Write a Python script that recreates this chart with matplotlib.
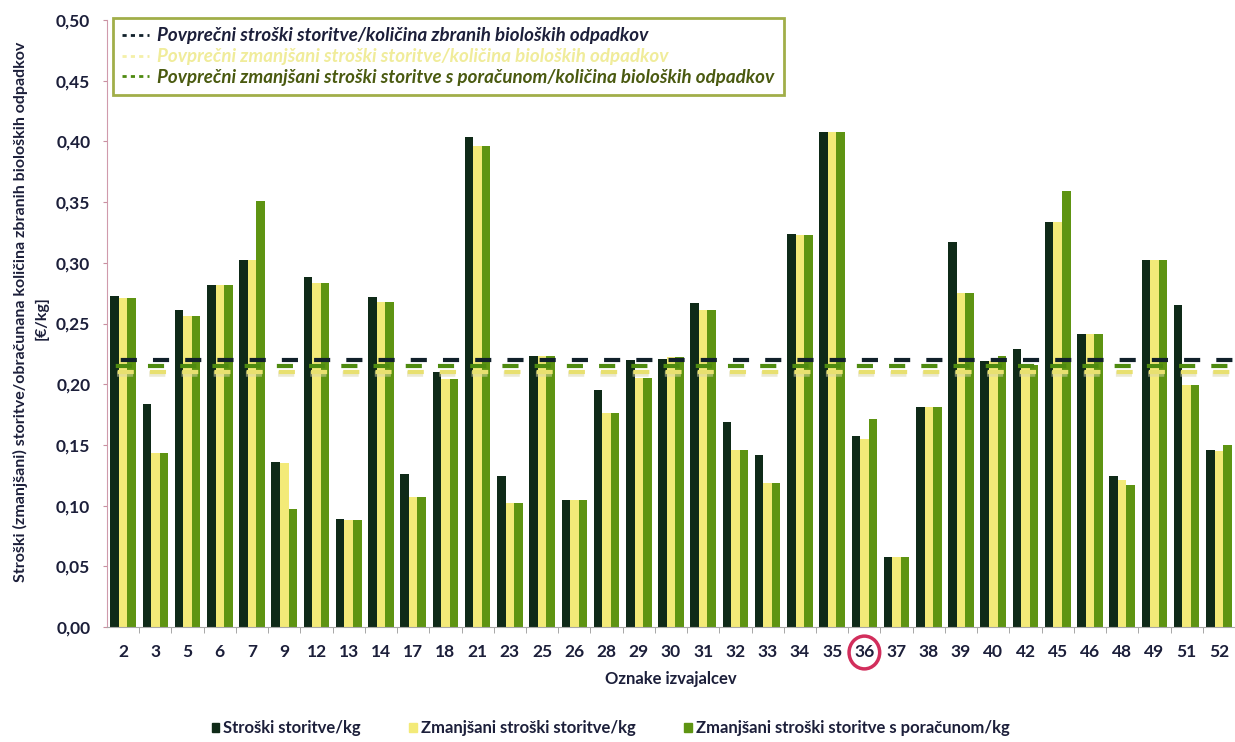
import numpy as np
import matplotlib
matplotlib.use("Agg")
import matplotlib.pyplot as plt
from matplotlib.lines import Line2D
from matplotlib.patches import Patch, Ellipse

plt.rcParams['font.family'] = ['Lato', 'DejaVu Sans']
plt.rcParams['lines.scale_dashes'] = False

# oznake izvajalcev
izvajalci = ['2', '3', '5', '6', '7', '9', '12', '13', '14', '17', '18', '21', '23', '25', '26',
             '28', '29', '30', '31', '32', '33', '34', '35', '36', '37', '38', '39', '40', '42',
             '45', '46', '48', '49', '51', '52']

# stroski storitve / kg
stroski = [0.273, 0.184, 0.261, 0.282, 0.302, 0.136, 0.288, 0.089, 0.272, 0.126, 0.210, 0.404,
           0.124, 0.223, 0.105, 0.195, 0.220, 0.221, 0.267, 0.169, 0.142, 0.324, 0.408, 0.157,
           0.058, 0.181, 0.317, 0.219, 0.229, 0.334, 0.241, 0.124, 0.302, 0.265, 0.146]

# zmanjsani stroski storitve / kg
zmanjsani = [0.271, 0.143, 0.256, 0.282, 0.302, 0.135, 0.283, 0.088, 0.268, 0.107, 0.204, 0.396,
             0.102, 0.223, 0.105, 0.176, 0.205, 0.222, 0.261, 0.146, 0.119, 0.323, 0.408, 0.155,
             0.058, 0.181, 0.275, 0.219, 0.216, 0.334, 0.241, 0.121, 0.302, 0.199, 0.145]

# zmanjsani stroski storitve s poracunom / kg
poracun = [0.271, 0.143, 0.256, 0.282, 0.351, 0.097, 0.283, 0.088, 0.268, 0.107, 0.204, 0.396,
           0.102, 0.223, 0.105, 0.176, 0.205, 0.222, 0.261, 0.146, 0.119, 0.323, 0.408, 0.171,
           0.058, 0.181, 0.275, 0.223, 0.216, 0.359, 0.241, 0.117, 0.302, 0.199, 0.150]

# povprecja
povp_stroski = 0.220
povp_zmanjsani = 0.210
povp_poracun = 0.215

y_ticks = [0.0, 0.05, 0.10, 0.15, 0.20, 0.25, 0.30, 0.35, 0.40, 0.45, 0.50]
y_tick_labels = ['0,00', '0,05', '0,10', '0,15', '0,20', '0,25', '0,30', '0,35', '0,40', '0,45', '0,50']

c_dark = '#0f2a18'
c_yellow = '#f3ea78'
c_green = '#5e9412'
c_text = '#1c1f3a'

fig = plt.figure(figsize=(12.35, 7.42), dpi=100)
ax = fig.add_axes([107 / 1235, 115 / 742, 1128 / 1235, 607 / 742])

x = np.arange(len(izvajalci))
w = 0.265
ax.bar(x - w, stroski, w, color=c_dark, zorder=2)
ax.bar(x, zmanjsani, w, color=c_yellow, zorder=2)
ax.bar(x + w, poracun, w, color=c_green, zorder=2)

# povprecne vrednosti - crtkane crte cez stolpce
ax.axhline(povp_zmanjsani - 0.002, color='#d8d4a8', lw=4, alpha=0.5,
           linestyle=(16.0, (11.6, 11.6)), zorder=3)
ax.axhline(povp_zmanjsani, color='#e8e070', lw=3, linestyle=(15.5, (11.6, 11.6)), zorder=3)
ax.axhline(povp_poracun, color='#4e8a10', lw=3, linestyle=(16.9, (11.6, 11.6)), zorder=3)
ax.axhline(povp_stroski, color='#10202a', lw=3, linestyle=(13.3, (11.6, 11.6)), zorder=3)

ax.set_xlim(-0.5, len(izvajalci) - 0.5)
ax.set_ylim(0, 0.5)
ax.set_yticks(y_ticks)
ax.set_yticklabels(y_tick_labels)
ax.set_xticks(x)
ax.set_xticklabels(izvajalci)
ax.set_xticks(x[:-1] + 0.5, minor=True)
ax.tick_params(axis='x', which='major', length=0, pad=12, labelsize=12.5, labelcolor=c_text)
ax.tick_params(axis='x', which='minor', length=4, color='#999999', direction='out')
ax.tick_params(axis='y', length=3, color='#c890a0', pad=9, labelsize=12.5, labelcolor=c_text)
for lab in ax.get_xticklabels() + ax.get_yticklabels():
    lab.set_fontweight('bold')

for s in ['top', 'right']:
    ax.spines[s].set_visible(False)
ax.spines['left'].set_color('#d09aac')
ax.spines['bottom'].set_color('#a8a8a8')

ax.set_xlabel('Oznake izvajalcev', fontsize=12, fontweight='bold', color=c_text, labelpad=8)

fig.text(20 / 1235, 1 - 312 / 742,
         'Stroški (zmanjšani) storitve/obračunana količina zbranih bioloških odpadkov',
         rotation=90, ha='center', va='center', fontsize=11.5, fontweight='bold', color=c_text)
fig.text(42 / 1235, 1 - 318 / 742, '[€/kg]', rotation=90, ha='center', va='center',
         fontsize=11.5, fontweight='bold', color=c_text)

# rdec krog okoli 36
i36 = izvajalci.index('36')
circ = Ellipse((i36, -0.021), 0.95, 0.027, transform=ax.transData, fill=False,
               edgecolor='#d22e5c', lw=2.5, clip_on=False, zorder=5)
ax.add_patch(circ)

# legenda povprecij zgoraj
top_handles = [
    Line2D([], [], color='#10202a', lw=2, linestyle=(0, (3, 3))),
    Line2D([], [], color='#f4f0a8', lw=2, linestyle=(0, (3, 3))),
    Line2D([], [], color='#4e8a10', lw=2, linestyle=(0, (3, 3))),
]
top_labels = ['Povprečni stroški storitve/količina zbranih bioloških odpadkov',
              'Povprečni zmanjšani stroški storitve/količina bioloških odpadkov',
              'Povprečni zmanjšani stroški storitve s poračunom/količina bioloških odpadkov']
leg = fig.legend(top_handles, top_labels, loc='upper left',
                 bbox_to_anchor=(113 / 1235, 1 - 18 / 742), borderaxespad=0, frameon=True,
                 fancybox=False, edgecolor='#8a9a1c', handlelength=1.4, handletextpad=0.45,
                 labelspacing=0.2, borderpad=0.5,
                 prop={'size': 13.5, 'weight': 'bold', 'style': 'italic'},
                 labelcolor=[c_text, '#f0ec9a', '#4a5a10'])
leg.get_frame().set_linewidth(2)

# legenda stolpcev spodaj
bot_handles = [Patch(color=c_dark), Patch(color=c_yellow), Patch(color=c_green)]
bot_labels = ['Stroški storitve/kg', 'Zmanjšani stroški storitve/kg',
              'Zmanjšani stroški storitve s poračunom/kg']
fig.legend(bot_handles, bot_labels, loc='center left', bbox_to_anchor=(205 / 1235, 1 - 728 / 742),
           borderaxespad=0, ncol=3, frameon=False, handlelength=0.45, handleheight=0.45,
           handletextpad=0.25, columnspacing=2.9, prop={'size': 12, 'weight': 'bold'},
           labelcolor=c_text)

fig.savefig('out.png', dpi=100)
